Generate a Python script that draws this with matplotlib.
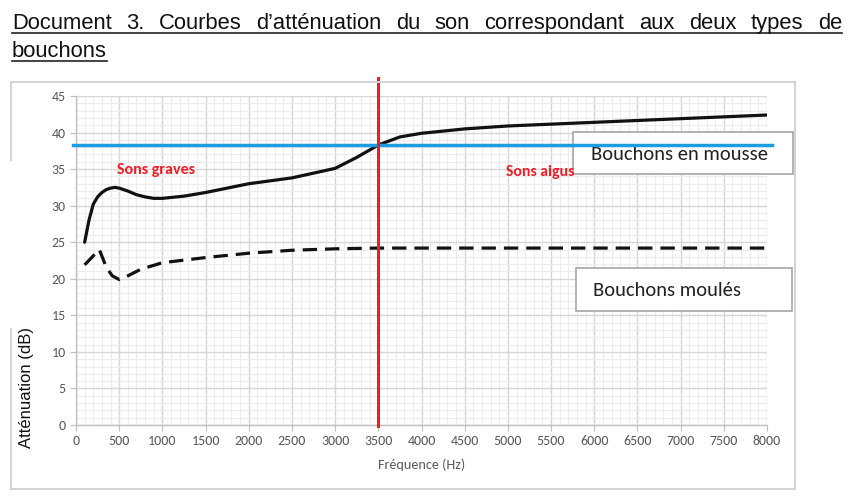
import numpy as np
import matplotlib.pyplot as plt
from matplotlib.patches import Rectangle
from matplotlib.lines import Line2D

# values
freq_mousse = [100, 150, 200, 250, 300, 350, 400, 450, 500, 600, 700, 800, 900, 1000, 1250, 1500,
               2000, 2500, 3000, 3250, 3500, 3750, 4000, 4500, 5000, 6000, 7000, 8000]
att_mousse = [25.0, 28.0, 30.2, 31.2, 31.8, 32.2, 32.4, 32.5, 32.4, 32.0, 31.5, 31.2, 31.0, 31.0,
              31.3, 31.8, 33.0, 33.8, 35.1, 36.6, 38.3, 39.4, 39.9, 40.5, 40.9, 41.4, 41.9, 42.4]
freq_moules = [100, 270, 350, 420, 500, 600, 750, 1000, 1500, 2000, 2500, 3000, 3500, 8000]
att_moules = [21.9, 24.0, 21.6, 20.4, 19.9, 20.4, 21.3, 22.2, 22.9, 23.5, 23.9, 24.1, 24.2, 24.2]
seuil = 38.3
f_coupure = 3500

xticks = np.arange(0, 8001, 500)
yticks = np.arange(0, 46, 5)

fig = plt.figure(figsize=(8.54, 4.97), dpi=100)
W, H = 854, 497

def fx(px):
    return px / W

def fy(py):
    return 1 - py / H

# outer chart frame (partly hidden on the left like the scan)
frame_col = '#d4d4d4'
fig.add_artist(Line2D([fx(11), fx(795)], [fy(82), fy(82)], color=frame_col, lw=1.5))
fig.add_artist(Line2D([fx(795), fx(795)], [fy(82), fy(489)], color=frame_col, lw=1.5))
fig.add_artist(Line2D([fx(11), fx(795)], [fy(489), fy(489)], color=frame_col, lw=1.5))
fig.add_artist(Line2D([fx(11), fx(11)], [fy(82), fy(160)], color=frame_col, lw=1.5))
fig.add_artist(Line2D([fx(11), fx(11)], [fy(329), fy(489)], color=frame_col, lw=1.5))

ax = fig.add_axes([fx(76), fy(425), fx(767) - fx(76), fy(96) - fy(425)])
ax.set_xlim(0, 8000)
ax.set_ylim(0, 45)
ax.set_xticks(xticks)
ax.set_yticks(yticks)
ax.set_xticks(np.arange(0, 8001, 100), minor=True)
ax.set_yticks(np.arange(0, 46, 1), minor=True)
ax.grid(which='major', color='#d6d6d6', lw=1.0)
ax.grid(which='minor', color='#ececec', lw=0.8)
ax.set_axisbelow(True)
for s in ['top', 'right']:
    ax.spines[s].set_visible(False)
for s in ['left', 'bottom']:
    ax.spines[s].set_color('#bfbfbf')
    ax.spines[s].set_linewidth(1.0)
ax.tick_params(which='major', length=4, color='#bfbfbf', labelsize=10, labelcolor='#595959')
ax.tick_params(which='minor', length=0)
for lab in ax.get_xticklabels() + ax.get_yticklabels():
    lab.set_fontfamily('Carlito')
ax.patch.set_alpha(0)

ax.plot(freq_mousse, att_mousse, color='#111111', lw=2.3, solid_capstyle='round',
        solid_joinstyle='round', zorder=4)
ax.plot(freq_moules, att_moules, color='#111111', lw=2.3, dashes=(4.5, 2.5), zorder=4)

# label boxes
ax.add_patch(Rectangle((5750, 34.3), 2550, 5.8, facecolor='white', edgecolor='#a6a6a6',
                       lw=1.2, clip_on=False, zorder=5))
ax.add_patch(Rectangle((5790, 15.6), 2500, 5.9, facecolor='white', edgecolor='#a6a6a6',
                       lw=1.2, clip_on=False, zorder=5))
ax.text(5960, 37.0, 'Bouchons en mousse', fontsize=14.8, fontfamily='Carlito',
        color='#222222', va='center', zorder=6)
ax.text(5990, 18.4, 'Bouchons moulés', fontsize=14.8, fontfamily='Carlito',
        color='#222222', va='center', zorder=6)

ax.plot([-30, 8060], [seuil, seuil], color='#1a9ee0', lw=2.5, clip_on=False, zorder=7)
ax.plot([f_coupure, f_coupure], [-0.2, 47.5], color='#ee1c25', lw=2.2, clip_on=False, zorder=7)

ax.text(470, 34.9, 'Sons graves', color='#ee1c25', fontsize=11.5, fontweight='bold',
        fontfamily='Carlito', va='center')
ax.text(4980, 34.6, 'Sons aigus', color='#ee1c25', fontsize=11.3, fontweight='bold',
        fontfamily='Carlito', va='center', zorder=8)

ax.set_xlabel('Fréquence (Hz)', fontsize=10.2, color='#595959', fontfamily='Carlito', labelpad=8)
fig.text(fx(27), fy(388), 'Atténuation (dB)', rotation=90, fontsize=12,
         fontfamily='Liberation Sans', va='center', ha='center', color='#111111')

# justified, underlined title
title1 = "Document 3. Courbes d\u2019atténuation du son correspondant aux deux types de"
words = title1.split(' ')
fs = 15.8
renderer = fig.canvas.get_renderer()
widths = []
texts = []
for w in words:
    t = fig.text(0, 0, w, fontsize=fs, fontfamily='Liberation Sans', color='#111111')
    widths.append(t.get_window_extent(renderer).width)
    texts.append(t)
left, right = 12, 842
gap = (right - left - sum(widths)) / (len(words) - 1)
x = left
for t, wd in zip(texts, widths):
    t.set_position((fx(x), fy(29)))
    t.set_va('baseline')
    x += wd + gap
fig.add_artist(Line2D([fx(left), fx(right)], [fy(33), fy(33)], color='#222222', lw=1.2))
t2 = fig.text(fx(12), fy(57), 'bouchons', fontsize=fs, fontfamily='Liberation Sans',
              va='baseline', color='#111111')
w2 = t2.get_window_extent(renderer).width
fig.add_artist(Line2D([fx(12), fx(12 + w2)], [fy(61), fy(61)], color='#222222', lw=1.2))

fig.savefig('out.png', dpi=100)
